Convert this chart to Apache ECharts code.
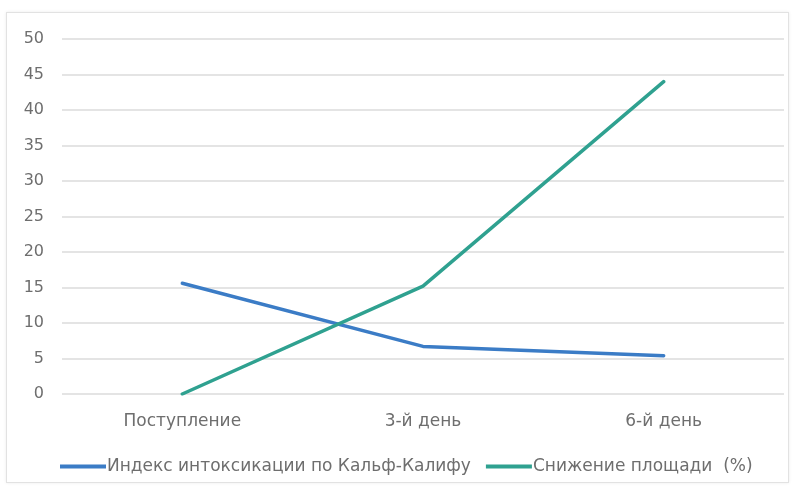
<!DOCTYPE html>
<html>
<head>
<meta charset="utf-8">
<script src="https://cdn.jsdelivr.net/npm/echarts@6/dist/echarts.min.js"></script>
<style>
  html, body { margin: 0; padding: 0; background: #ffffff; }
  #frame { position: absolute; left: 6px; top: 12px; width: 781px; height: 469px;
           border: 1px solid #e2e2e2; box-shadow: 0 0 3px rgba(0,0,0,0.08); }
  #chart { position: absolute; left: 0; top: 0; width: 793px; height: 489px; }
</style>
</head>
<body>
<div id="frame"></div>
<div id="chart"></div>
<script>
// Days of treatment
const categories = ['Поступление', '3-й день', '6-й день'];
// Intoxication index (Kalf-Kalif)
const intoxIndex = [15.6, 6.7, 5.4];
// Reduction of wound area, %
const areaReduction = [0, 15.2, 44];
const yTicks = { min: 0, max: 50, interval: 5 };

const textColor = '#6e6e6e';
const fontFamily = 'DejaVu Sans, sans-serif';

const chart = echarts.init(document.getElementById('chart'));
chart.setOption({
  animation: false,
  backgroundColor: 'transparent',
  grid: { left: 62, right: 9, top: 39, bottom: 95 },
  xAxis: {
    type: 'category',
    data: categories,
    boundaryGap: true,
    axisLine: { show: false },
    axisTick: { show: false },
    axisLabel: { color: textColor, fontSize: 17, fontFamily, margin: 19 }
  },
  yAxis: {
    type: 'value',
    min: yTicks.min, max: yTicks.max, interval: yTicks.interval,
    axisLine: { show: false },
    axisTick: { show: false },
    axisLabel: { color: textColor, fontSize: 16, fontFamily, margin: 18 },
    splitLine: { lineStyle: { color: '#e4e4e4', width: 2 } }
  },
  legend: {
    left: 55, top: 453,
    icon: 'rect',
    itemWidth: 46, itemHeight: 4,
    itemGap: 15,
    textStyle: { color: textColor, fontSize: 17, fontFamily, padding: [0, 0, 0, -4] },
    data: ['Индекс интоксикации по Кальф-Калифу', 'Снижение площади  (%)']
  },
  series: [
    {
      name: 'Индекс интоксикации по Кальф-Калифу',
      type: 'line',
      data: intoxIndex,
      showSymbol: false,
      symbol: 'none',
      color: '#3b7cc6',
      lineStyle: { width: 3.5, color: '#3b7cc6', cap: 'round' }
    },
    {
      name: 'Снижение площади  (%)',
      type: 'line',
      data: areaReduction,
      showSymbol: false,
      symbol: 'none',
      color: '#2fa190',
      lineStyle: { width: 3.5, color: '#2fa190', cap: 'round' }
    }
  ]
});
</script>
</body>
</html>
